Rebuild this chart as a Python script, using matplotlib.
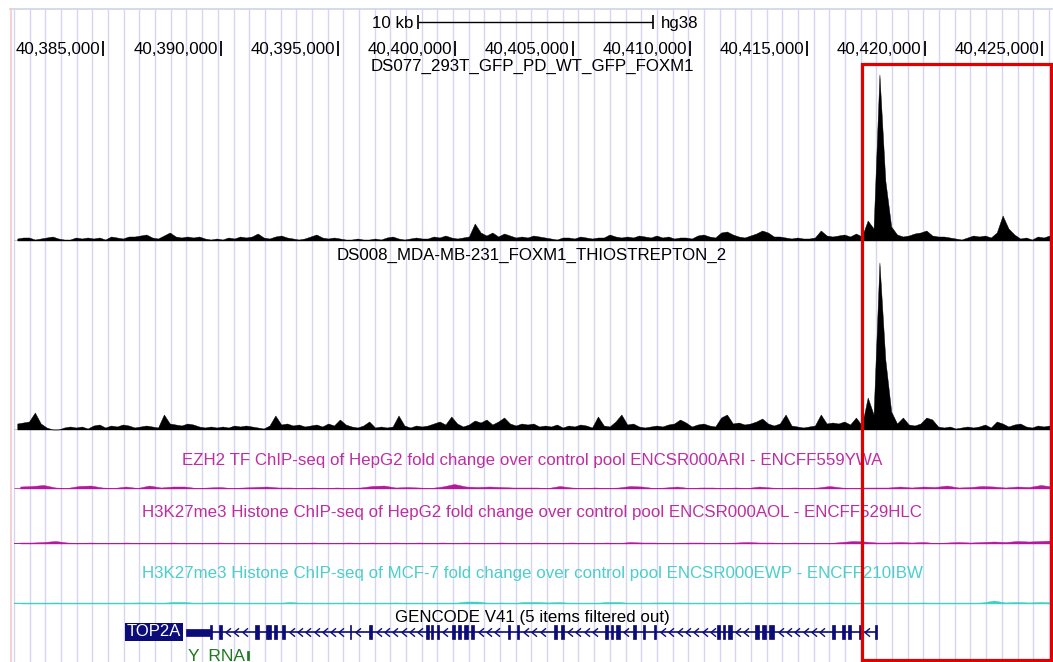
import numpy as np
import matplotlib
matplotlib.use("Agg")
import matplotlib.pyplot as plt
from matplotlib.patches import Rectangle
from matplotlib.path import Path
from matplotlib.transforms import offset_copy
from matplotlib.lines import Line2D

plt.rcParams['font.family'] = ['Liberation Sans', 'DejaVu Sans']

# ------------------------------------------------------------------ data
region_start = 40381185
region_end = 40425345
axis_ticks = [40385000, 40390000, 40395000, 40400000, 40405000,
              40410000, 40415000, 40420000, 40425000]
axis_tick_labels = ["40,385,000", "40,390,000", "40,395,000", "40,400,000",
                    "40,405,000", "40,410,000", "40,415,000", "40,420,000",
                    "40,425,000"]
scale_bar_start = 40398406
scale_bar_length = 10000
scale_bar_label = "10 kb"
assembly = "hg38"
highlight_start = 40417332
highlight_end = 40425388

track_titles = [
    "DS077_293T_GFP_PD_WT_GFP_FOXM1",
    "DS008_MDA-MB-231_FOXM1_THIOSTREPTON_2",
    "EZH2 TF ChIP-seq of HepG2 fold change over control pool ENCSR000ARI - ENCFF559YWA",
    "H3K27me3 Histone ChIP-seq of HepG2 fold change over control pool ENCSR000AOL - ENCFF529HLC",
    "H3K27me3 Histone ChIP-seq of MCF-7 fold change over control pool ENCSR000EWP - ENCFF210IBW",
]
gene_track_title = "GENCODE V41 (5 items filtered out)"

# FOXM1 ChIP-seq signal, 250 bp bins starting at bin_start
bin_start = 40381200
bin_size_foxm1 = 250
foxm1_gfp = [
    2, 3, 3, 1, 2, 3, 4, 2, 1, 1,
    3, 2, 3, 2, 3, 1, 4, 3, 2, 4,
    4, 5, 6, 3, 2, 5, 8, 4, 3, 4,
    3, 4, 2, 1, 2, 1, 3, 2, 4, 3,
    4, 7, 3, 2, 4, 5, 3, 2, 1, 2,
    4, 6, 3, 2, 3, 2, 1, 1, 2, 1,
    1, 2, 1, 3, 4, 2, 1, 2, 3, 2,
    2, 4, 3, 5, 3, 2, 3, 4, 17, 8,
    5, 8, 4, 7, 5, 3, 4, 3, 5, 4,
    3, 2, 1, 3, 3, 2, 4, 3, 2, 3,
    3, 6, 4, 3, 4, 3, 5, 4, 3, 5,
    3, 4, 2, 3, 3, 2, 5, 6, 4, 3,
    8, 9, 6, 4, 3, 5, 7, 10, 8, 4,
    4, 3, 2, 3, 2, 2, 3, 10, 5, 4,
    5, 6, 4, 7, 4, 20, 12, 166, 60, 14,
    6, 4, 5, 7, 8, 10, 5, 4, 4, 3,
    2, 1, 3, 5, 4, 5, 3, 8, 25, 12,
    6, 2, 3, 1, 4, 3, 5,
]
foxm1_thiostrepton = [
    6, 7, 8, 17, 6, 2, 0, 0, 2, 3,
    2, 3, 1, 4, 5, 2, 4, 3, 5, 4,
    2, 3, 4, 3, 2, 15, 6, 5, 4, 6,
    5, 3, 2, 3, 2, 3, 2, 4, 3, 4,
    3, 2, 1, 4, 14, 5, 6, 4, 5, 3,
    4, 5, 3, 6, 4, 10, 5, 3, 2, 4,
    8, 2, 3, 2, 3, 14, 4, 2, 4, 3,
    4, 6, 8, 5, 13, 6, 3, 5, 9, 7,
    10, 5, 8, 12, 6, 4, 6, 5, 6, 3,
    4, 3, 5, 2, 4, 3, 5, 4, 2, 13,
    4, 3, 8, 15, 5, 6, 3, 2, 3, 4,
    3, 5, 6, 10, 7, 3, 5, 6, 4, 3,
    12, 15, 6, 7, 5, 6, 8, 11, 6, 4,
    6, 15, 4, 3, 2, 3, 4, 15, 6, 7,
    6, 8, 5, 12, 4, 32, 15, 167, 70, 18,
    6, 12, 5, 4, 6, 12, 10, 3, 2, 3,
    1, 2, 3, 2, 3, 5, 2, 8, 6, 3,
    5, 6, 3, 2, 4, 3, 4,
]

# ENCODE fold-change signals, 500 bp bins starting at bin_start
bin_size_encode = 500
ezh2_hepg2 = [
    2, 2.5, 3.5, 1, 0.5, 2.5, 3, 1, 0.5, 2,
    0.5, 3, 1, 2, 2, 0.5, 1, 1.5, 0.5, 1,
    1.5, 2, 1, 1, 0.5, 1, 0.5, 1, 0.5, 1,
    2.5, 3, 1, 1.5, 1, 0.5, 2, 4.5, 2, 1.5,
    2, 1.5, 1, 1, 1, 0.5, 2.5, 1, 0.5, 1,
    0.5, 1, 2.5, 2, 0.5, 1, 2, 0.5, 1, 1,
    0.5, 1, 0.5, 2, 1, 0.5, 1, 0.5, 1, 2.5,
    1, 0.5, 1, 1, 1, 2, 1, 2, 1.5, 3,
    1, 1.5, 2.5, 2, 1, 2, 1.5, 3.5, 2,
]
h3k27me3_hepg2 = [
    1, 1, 1.5, 2.5, 1, 0.5, 1, 0.5, 0.5, 1,
    0.5, 0.5, 0.5, 1, 0.5, 0.5, 0.5, 1, 0.5, 0.5,
    0.5, 0.5, 0.5, 0.5, 0.5, 1, 0.5, 0.5, 1, 0.5,
    1, 0.5, 1, 0.5, 1, 0.5, 1, 0.5, 1, 0.5,
    0.5, 1, 0.5, 0.5, 1, 0.5, 0.5, 1, 0.5, 0.5,
    1, 0.5, 1.5, 1, 1, 0.5, 0.5, 1, 1, 0.5,
    0.5, 1, 1.5, 1, 1, 0.5, 1, 0.5, 0.5, 0.5,
    1.5, 2.5, 2, 1, 1, 1.5, 1, 1.5, 0.5, 1,
    1.5, 1, 1.5, 2, 1.5, 2.5, 2, 2.5, 3,
]
h3k27me3_mcf7 = [
    0.5, 0.5, 0.5, 1, 0.5, 0.5, 0.5, 0.5, 0.5, 0.5,
    1, 1, 0.5, 1.5, 1.5, 0.5, 1, 1, 1, 0.5,
    0.5, 0.5, 0.5, 1.5, 0.5, 0.5, 0.5, 0.5, 1, 0.5,
    0.5, 0.5, 1, 0.5, 0.5, 0.5, 0.5, 0.5, 2, 2,
    0.5, 1, 0.5, 1.5, 1.5, 1, 1.5, 0.5, 0.5, 0.5,
    1.5, 1.5, 0.5, 0.5, 1, 1, 1, 0.5, 0.5, 0.5,
    0.5, 0.5, 1, 0.5, 0.5, 1, 0.5, 0.5, 0.5, 1,
    0.5, 0.5, 0.5, 0.5, 0.5, 0.5, 0.5, 1, 0.5, 0.5,
    0.5, 0.5, 1, 3, 1, 1.5, 1, 1.5, 1,
]

# GENCODE gene model (TOP2A, minus strand)
gene_name = "TOP2A"
gene_utr_start = 40388517
gene_utr_end = 40389540
gene_end = 40417950
exon_starts = [40389540, 40389902, 40391458, 40391927, 40392033, 40392268,
               40392609, 40395486, 40396296, 40398747, 40398960, 40399195,
               40399855, 40400111, 40400367, 40400644, 40402242, 40402626,
               40404182, 40404480, 40406398, 40406633, 40406867, 40407571,
               40407997, 40408466, 40411130, 40411386, 40411641, 40412771,
               40413069, 40413368, 40416053, 40416479, 40416735, 40417183,
               40417886]
exon_ends = [40389646, 40390030, 40391607, 40391969, 40392119, 40392396,
             40392737, 40395550, 40396445, 40398854, 40399045, 40399280,
             40400004, 40400260, 40400516, 40400793, 40402328, 40402732,
             40404310, 40404608, 40406526, 40406739, 40406995, 40407698,
             40408103, 40408572, 40411258, 40411513, 40411769, 40412941,
             40413240, 40413581, 40416160, 40416586, 40416842, 40417268,
             40417950]
yrna_name = "Y_RNA"
yrna_start = 40391117
yrna_end = 40391202

# ------------------------------------------------------------------ layout
W, H = 1053, 662
PX_PER_KB = 23.46
G_LEFT = axis_ticks[0] - 103.5 / PX_PER_KB * 1000
G_RIGHT = G_LEFT + W / PX_PER_KB * 1000
BP_PER_PX = 1000 / PX_PER_KB
FS = 12.2

NAVY = '#0C0C78'
MAGENTA = '#B3199C'
MAGENTA_TXT = '#BE2EA0'
CYAN = '#3ECFC5'
CYAN_TXT = '#4CCFC8'
GRID = '#D6D6F0'

fig = plt.figure(figsize=(W / 100, H / 100), dpi=100)
fig.patch.set_facecolor('white')

bg = fig.add_axes([0, 0, 1, 1])
bg.set_xlim(G_LEFT, G_RIGHT)
bg.set_ylim(H, 0)
bg.axis('off')

# frame lines of the browser image
fig.add_artist(Line2D([10 / W, 1], [1 - 8.5 / H, 1 - 8.5 / H],
                      transform=fig.transFigure, color='#C9D5E8', lw=1.2))
fig.add_artist(Line2D([10.5 / W, 10.5 / W], [0, 1 - 8.5 / H],
                      transform=fig.transFigure, color='#F2CACA', lw=1.2))

# guidelines
grid_spacing = 15.68 * BP_PER_PX
guides = np.arange(region_start, region_end + 1, grid_spacing)
bg.vlines(guides, 8.5, H, color=GRID, lw=1.0, zorder=0)

# ruler
bg.vlines(axis_ticks, 41, 55.5, color='black', lw=1.3, zorder=3)
lab_tr = offset_copy(bg.transData, fig=fig, x=-3, y=0, units='dots')
for t, lab in zip(axis_ticks, axis_tick_labels):
    bg.text(t, 54, lab, ha='right', va='baseline', fontsize=FS,
            transform=lab_tr, zorder=3)

# scale bar
sb0, sb1 = scale_bar_start, scale_bar_start + scale_bar_length
bg.hlines(21.5, sb0, sb1, color='black', lw=1.0, zorder=3)
bg.vlines([sb0, sb1], 14.5, 29, color='black', lw=1.2, zorder=3)
bg.text(sb0, 28, scale_bar_label, ha='right', va='baseline', fontsize=FS,
        transform=offset_copy(bg.transData, fig=fig, x=-5, units='dots'))
bg.text(sb1, 28, assembly, ha='left', va='baseline', fontsize=FS,
        transform=offset_copy(bg.transData, fig=fig, x=8, units='dots'))

# track titles
mid = (region_start + region_end) / 2
title_y = [71, 260, 465, 517, 578]
title_c = ['black', 'black', MAGENTA_TXT, MAGENTA_TXT, CYAN_TXT]
for t, y, c in zip(track_titles, title_y, title_c):
    bg.text(mid, y, t, ha='center', va='baseline', fontsize=FS, color=c, zorder=3)
bg.text(mid, 622, gene_track_title, ha='center', va='baseline', fontsize=FS, zorder=3)


def track_axes(baseline_px, height_px):
    ax = fig.add_axes([0, 1 - baseline_px / H, 1, height_px / H])
    ax.set_xlim(G_LEFT, G_RIGHT)
    ax.set_ylim(0, height_px)
    ax.axis('off')
    ax.patch.set_alpha(0)
    return ax


def draw_signal(ax, values, bin_size, color, base_lw):
    v = np.asarray(values, dtype=float)
    x = bin_start + bin_size * (np.arange(len(v)) + 0.5)
    ax.fill_between(x, 0, v, color=color, lw=0.3, edgecolor=color)
    ax.hlines(0, region_start, region_end, color=color, lw=base_lw)


ax1 = track_axes(240.5, 170)
draw_signal(ax1, foxm1_gfp, bin_size_foxm1, 'black', 1.0)
ax2 = track_axes(429.5, 170)
draw_signal(ax2, foxm1_thiostrepton, bin_size_foxm1, 'black', 1.0)
ax3 = track_axes(488.5, 20)
draw_signal(ax3, ezh2_hepg2, bin_size_encode, MAGENTA, 1.8)
ax4 = track_axes(543.5, 20)
draw_signal(ax4, h3k27me3_hepg2, bin_size_encode, MAGENTA, 1.4)
ax5 = track_axes(603.5, 20)
draw_signal(ax5, h3k27me3_mcf7, bin_size_encode, CYAN, 1.7)

# gene model
gy = 632
bg.hlines(gy, gene_utr_end, gene_end, color=NAVY, lw=1.2, zorder=3)
bg.add_patch(Rectangle((gene_utr_start, gy - 3.5), gene_utr_end - gene_utr_start, 7,
                       fc=NAVY, ec=NAVY, lw=0.5, zorder=3))
min_w = 1.8 * BP_PER_PX
for s, e in zip(exon_starts, exon_ends):
    w = max(e - s, min_w)
    bg.add_patch(Rectangle((s, gy - 7), w, 14, fc=NAVY, ec=NAVY, lw=0.5, zorder=3))

# intron chevrons
chev = Path([(0.6, 1.0), (-0.6, 0.0), (0.6, -1.0)],
            [Path.MOVETO, Path.LINETO, Path.LINETO])
step = 8.3 * BP_PER_PX
cx = []
bounds = sorted(zip(exon_starts, exon_ends))
for (s0, e0), (s1, e1) in zip(bounds[:-1], bounds[1:]):
    p = e0 + step * 0.8
    while p < s1 - step * 0.4:
        cx.append(p)
        p += step
bg.plot(cx, [gy] * len(cx), ls='none', marker=chev, ms=6, mfc='none',
        mec=NAVY, mew=1.0, zorder=3)

bg.text(gene_utr_start, gy, gene_name, ha='right', va='center', fontsize=12,
        color='white', zorder=4,
        transform=offset_copy(bg.transData, fig=fig, x=-5, units='dots'),
        bbox=dict(boxstyle='square,pad=0.1', fc=NAVY, ec='none'))

# Y_RNA
bg.add_patch(Rectangle((yrna_start, 651), yrna_end - yrna_start, 9,
                       fc='#1E7A1E', ec='#1E7A1E', lw=0.5, zorder=3))
bg.text(gene_utr_start, 649, yrna_name, ha='left', va='top', fontsize=12.5,
        color='#1E7A1E', zorder=3,
        transform=offset_copy(bg.transData, fig=fig, x=2, units='dots'))

# highlight box
top = fig.add_axes([0, 0, 1, 1])
top.set_xlim(G_LEFT, G_RIGHT)
top.set_ylim(H, 0)
top.axis('off')
top.patch.set_alpha(0)
top.add_patch(Rectangle((highlight_start, 63.5), highlight_end - highlight_start, 596,
                        fill=False, ec='#E10000', lw=2.3, zorder=10))

fig.savefig('out.png', dpi=100)
